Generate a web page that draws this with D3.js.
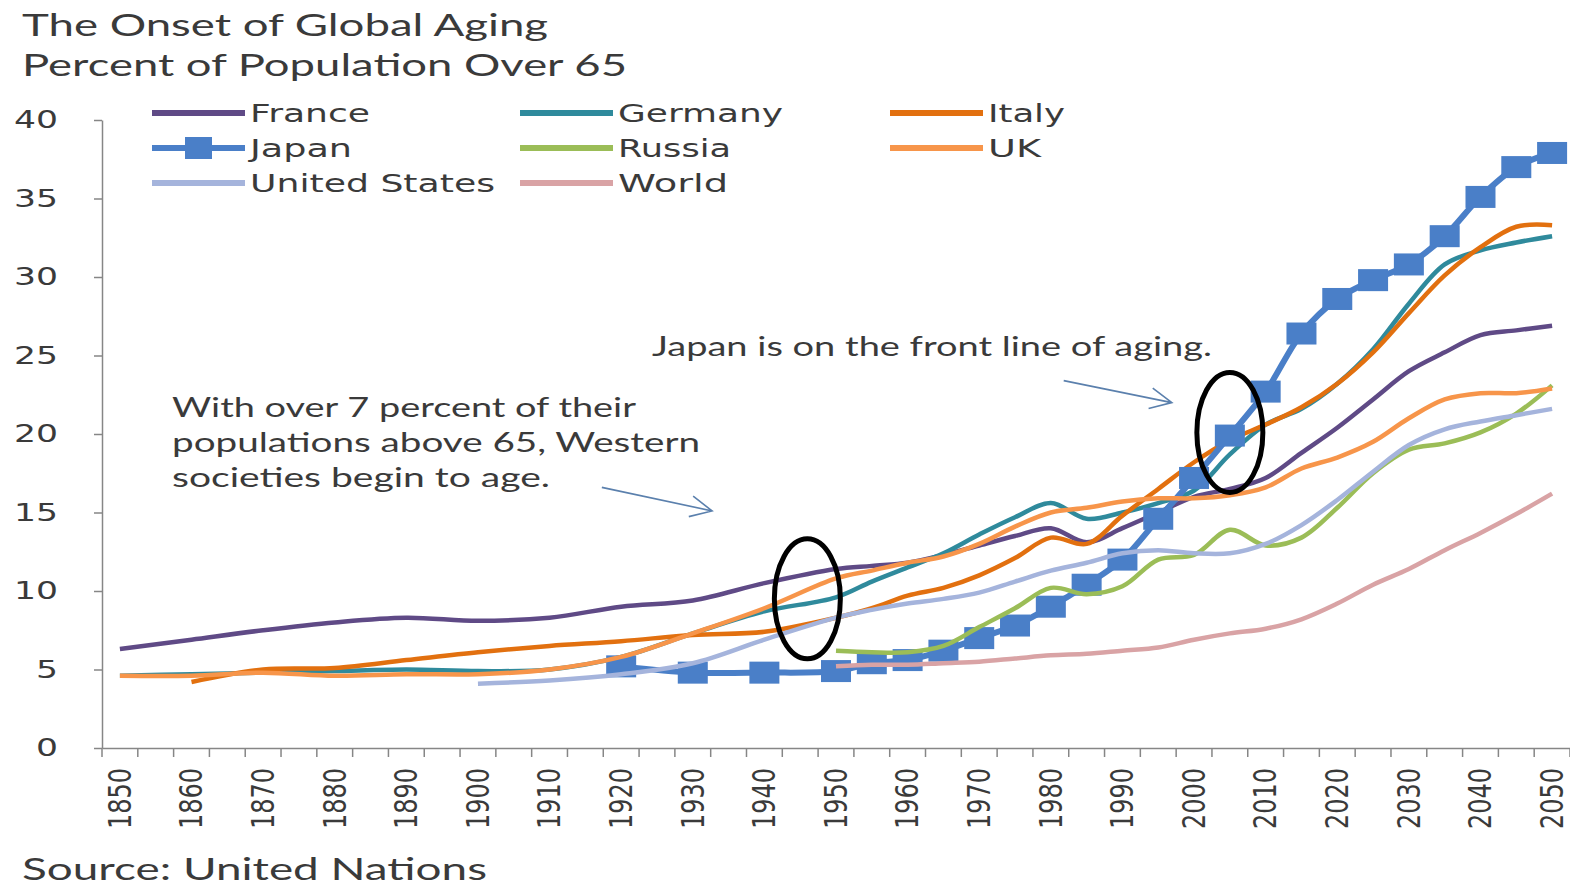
<!DOCTYPE html>
<html>
<head>
<meta charset="utf-8">
<script src="https://cdn.jsdelivr.net/npm/d3@7"></script>
<style>
  body { margin: 0; background: #fff; }
  svg { display: block; }
</style>
</head>
<body>
<svg width="1570" height="888"></svg>
<script>
// categories (Excel category axis, one slot every 5 years)
const years = [1850, 1855, 1860, 1865, 1870, 1875, 1880, 1885, 1890, 1895,
               1900, 1905, 1910, 1915, 1920, 1925, 1930, 1935, 1940, 1945,
               1950, 1955, 1960, 1965, 1970, 1975, 1980, 1985, 1990, 1995,
               2000, 2005, 2010, 2015, 2020, 2025, 2030, 2035, 2040, 2045, 2050];
const n = null;

// percent of population over 65
const france  = [6.3, n, 6.9, n, 7.5, n, 8.0, n, 8.3, n, 8.1, n, 8.3, n, 9.0, n, 9.4, n, 10.5, n, 11.4,
                 11.6, 11.8, 12.3, 12.9, 13.5, 14.0, 13.1, 14.0, 15.0, 16.0, 16.5, 17.2, 18.8, 20.4, 22.2, 24.0, 25.2, 26.3, 26.6, 26.9];
const germany = [4.6, n, 4.7, n, 4.8, n, 4.9, n, 5.0, n, 4.9, n, 5.0, n, 5.8, n, 7.3, n, 8.7, n, 9.6,
                 10.6, 11.5, 12.4, 13.6, 14.7, 15.6, 14.6, 15.0, 15.6, 16.4, 18.7, 20.6, 21.6, 23.2, 25.4, 28.3, 30.8, 31.7, 32.2, 32.6];
const italy   = [n, n, 4.2, n, 5.0, n, 5.1, n, 5.6, n, 6.1, n, 6.5, n, 6.8, n, 7.2, n, 7.4, n, 8.3,
                 8.9, 9.7, 10.2, 11.0, 12.1, 13.4, 13.0, 14.8, 16.5, 18.2, 19.6, 20.6, 21.7, 23.2, 25.2, 27.7, 30.1, 31.9, 33.2, 33.3];
const japan   = [n, n, n, n, n, n, n, n, n, n, n, n, n, n, 5.2, n, 4.8, n, 4.8, n, 4.9,
                 5.4, 5.6, 6.2, 7.0, 7.8, 9.0, 10.4, 12.0, 14.6, 17.2, 19.9, 22.7, 26.4, 28.6, 29.8, 30.8, 32.6, 35.1, 37.0, 37.9];
const russia  = [n, n, n, n, n, n, n, n, n, n, n, n, n, n, n, n, n, n, n, n, 6.2,
                 6.1, 6.1, 6.5, 7.7, 8.9, 10.2, 9.8, 10.3, 12.0, 12.3, 13.9, 12.9, 13.4, 15.3, 17.5, 19.0, 19.4, 20.1, 21.3, 23.1];
const uk      = [4.6, n, 4.6, n, 4.8, n, 4.6, n, 4.7, n, 4.7, n, 5.0, n, 5.8, n, 7.3, n, 8.9, n, 10.8,
                 11.3, 11.8, 12.2, 13.0, 14.1, 15.0, 15.3, 15.7, 15.9, 15.9, 16.1, 16.6, 17.8, 18.5, 19.5, 21.0, 22.2, 22.6, 22.6, 22.9];
const us      = [n, n, n, n, n, n, n, n, n, n, 4.1, n, 4.3, n, 4.7, n, 5.4, n, 6.9, n, 8.3,
                 8.8, 9.2, 9.5, 9.9, 10.6, 11.3, 11.8, 12.4, 12.6, 12.4, 12.4, 13.0, 14.2, 15.8, 17.6, 19.3, 20.3, 20.8, 21.2, 21.6];
const world   = [n, n, n, n, n, n, n, n, n, n, n, n, n, n, n, n, n, n, n, n, 5.2,
                 5.3, 5.3, 5.4, 5.5, 5.7, 5.9, 6.0, 6.2, 6.4, 6.9, 7.3, 7.6, 8.2, 9.2, 10.4, 11.4, 12.6, 13.7, 14.9, 16.2];

const seriesNames  = ['France', 'Germany', 'Italy', 'Japan', 'Russia', 'UK', 'United States', 'World'];
const seriesValues = [france, germany, italy, japan, russia, uk, us, world];
const seriesColors = ['#5f4a86', '#2f8a9c', '#e2700f', '#4a7fc8', '#9bbd57', '#f7954a', '#a5b4dc', '#d9a3a5'];

const yTicks = [0, 5, 10, 15, 20, 25, 30, 35, 40];
const labelYears = [1850, 1860, 1870, 1880, 1890, 1900, 1910, 1920, 1930, 1940, 1950,
                    1960, 1970, 1980, 1990, 2000, 2010, 2020, 2030, 2040, 2050];

// annotations, in data units (year, percent)
const ellipses = [{year: 1946, value: 9.5}, {year: 2005, value: 20.1}];
const arrows = [{from: [1917.3, 16.6], to: [1932.7, 15.1]},
                {from: [1981.8, 23.4], to: [1996.9, 22.0]}];

const svg = d3.select('svg');
const area = {left: 102, right: 1570, top: 120, bottom: 748};

const x = d3.scaleBand().domain(years).range([area.left, area.right]).paddingInner(0).paddingOuter(0);
const bw = x.bandwidth();
const cx = yr => x(yr) + bw / 2;
// continuous twin of the band scale, for annotations
const xl = d3.scaleLinear().domain([years[0] - 2.5, years[years.length - 1] + 2.5]).range([area.left, area.right]);
const y = d3.scaleLinear().domain([0, 40]).range([area.bottom, area.top]);

const axisColor = '#868686';
const textColor = '#3a3a3a';

function addText(px, py, str, size, width, family, fill) {
  return svg.append('text')
    .attr('x', px).attr('y', py)
    .attr('textLength', width).attr('lengthAdjust', 'spacingAndGlyphs')
    .style('font-family', family).style('font-size', size + 'px')
    .style('fill', fill || textColor)
    .text(str);
}

// titles
addText(22, 36, 'The Onset of Global Aging', 31, 526, 'Lato');
addText(22, 76, 'Percent of Population Over 65', 31, 605, 'Lato');
addText(22, 880, 'Source: United Nations', 30, 465, 'Lato');

// y axis
const gy = svg.append('g')
  .attr('transform', `translate(${area.left},0)`)
  .call(d3.axisLeft(y).tickValues(yTicks).tickSize(8).tickPadding(36).tickSizeOuter(0));
gy.select('.domain').attr('stroke', axisColor).attr('stroke-width', 1.5);
gy.selectAll('.tick line').attr('stroke', axisColor).attr('stroke-width', 1.5);
gy.selectAll('.tick text')
  .style('font-family', 'DejaVu Sans').style('font-size', '24px').style('fill', textColor)
  .attr('textLength', d => String(d).length * 22).attr('lengthAdjust', 'spacingAndGlyphs');

// x axis: labels on every other category, ticks between categories
const gx = svg.append('g')
  .attr('transform', `translate(0,${area.bottom})`)
  .call(d3.axisBottom(x).tickValues(labelYears).tickSize(0).tickSizeOuter(0));
gx.select('.domain').attr('stroke', axisColor).attr('stroke-width', 1.5);
gx.selectAll('.tick text')
  .attr('y', 0).attr('dy', 0)
  .attr('transform', `translate(0,20) rotate(-90) scale(1,1.35)`)
  .attr('text-anchor', 'end').attr('dominant-baseline', 'central')
  .style('font-family', 'DejaVu Sans').style('font-size', '24px').style('fill', textColor);
gx.selectAll('.cat-tick')
  .data(years.concat(['end']))
  .enter().append('line')
  .attr('class', 'cat-tick')
  .attr('x1', d => d === 'end' ? area.right : x(d))
  .attr('x2', d => d === 'end' ? area.right : x(d))
  .attr('y1', 0).attr('y2', 9)
  .attr('stroke', axisColor).attr('stroke-width', 1.5);

// lines
const line = d3.line()
  .defined(d => d.v !== null)
  .x(d => cx(d.yr))
  .y(d => y(d.v))
  .curve(d3.curveCatmullRom.alpha(0.5));

seriesNames.forEach((name, i) => {
  const pts = years.map((yr, j) => ({yr: yr, v: seriesValues[i][j]})).filter(d => d.v !== null);
  svg.append('path')
    .datum(pts)
    .attr('fill', 'none')
    .attr('stroke', seriesColors[i])
    .attr('stroke-width', name === 'Japan' ? 6 : 4.5)
    .attr('stroke-linejoin', 'round')
    .attr('d', line);
  if (name === 'Japan') {
    svg.selectAll('.jp-marker')
      .data(pts)
      .enter().append('rect')
      .attr('class', 'jp-marker')
      .attr('x', d => cx(d.yr) - 15)
      .attr('y', d => y(d.v) - 11)
      .attr('width', 30).attr('height', 22)
      .attr('fill', '#4a7fc8');
  }
});

// legend
const legendCols = [152, 520, 890];
const legendRows = [113, 148, 183];
const legendTextW = [120, 165, 77, 102, 113, 53, 245, 110];
seriesNames.forEach((name, i) => {
  const lx = legendCols[i % 3], ly = legendRows[Math.floor(i / 3)];
  svg.append('line')
    .attr('x1', lx).attr('x2', lx + 93).attr('y1', ly).attr('y2', ly)
    .attr('stroke', seriesColors[i]).attr('stroke-width', 6);
  if (name === 'Japan') {
    svg.append('rect').attr('x', lx + 33).attr('y', ly - 11).attr('width', 27).attr('height', 22)
      .attr('fill', '#4a7fc8');
  }
  addText(lx + 98, ly + 9, name, 24, legendTextW[i], 'DejaVu Sans');
});

// annotations
ellipses.forEach(e => {
  svg.append('ellipse')
    .attr('cx', xl(e.year)).attr('cy', y(e.value))
    .attr('rx', 33).attr('ry', 60)
    .attr('fill', 'none').attr('stroke', '#000').attr('stroke-width', 5);
});

arrows.forEach(a => {
  const x1 = xl(a.from[0]), y1 = y(a.from[1]), x2 = xl(a.to[0]), y2 = y(a.to[1]);
  const ang = Math.atan2(y2 - y1, x2 - x1);
  const len = 24, spread = 0.45;
  const h1 = [x2 - len * Math.cos(ang - spread), y2 - len * Math.sin(ang - spread)];
  const h2 = [x2 - len * Math.cos(ang + spread), y2 - len * Math.sin(ang + spread)];
  svg.append('path')
    .attr('d', `M${x1},${y1}L${x2},${y2}M${h1[0]},${h1[1]}L${x2},${y2}L${h2[0]},${h2[1]}`)
    .attr('fill', 'none').attr('stroke', '#5b80ad').attr('stroke-width', 1.6);
});

addText(172, 417, 'With over 7 percent of their', 26, 464, 'Lato');
addText(172, 452, 'populations above  65, Western', 26, 528, 'Lato');
addText(172, 487, 'societies begin to age.', 26, 378, 'Lato');
addText(652, 356, 'Japan is on the front line of aging.', 26, 560, 'Lato');
</script>
</body>
</html>
